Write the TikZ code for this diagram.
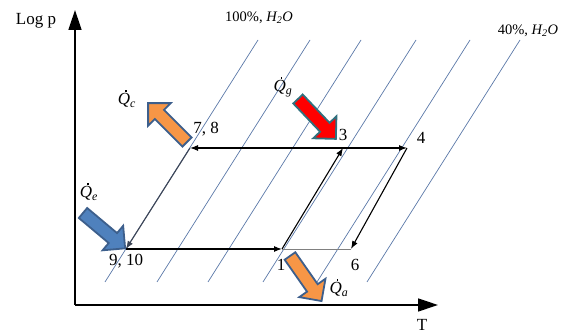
\documentclass[tikz,border=0pt]{standalone}
\usepackage{fontspec}
\setmainfont{Liberation Serif}
\usepackage{tikz}
\usetikzlibrary{
  arrows.meta,
  positioning,
}
\definecolor{isoblue}{HTML}{5A78A8}
\definecolor{heatorange}{HTML}{F79646}
\definecolor{heatred}{HTML}{FF0000}
\definecolor{heatblue}{HTML}{4F81BD}
\definecolor{rimblue}{HTML}{3D5F8C}
\definecolor{rimteal}{HTML}{31707E}
\definecolor{lineslate}{HTML}{3E4656}

\newcommand{\heatarrow}[4]{%
  \draw[heat, fill=#3, draw=#4, shift={#1}, rotate=#2]
    (0,-6.5) -- (39,-6.5) -- (39,-16) -- (55,0) -- (39,16) -- (39,6.5) -- (0,6.5) -- cycle;}
\newcommand{\qdot}[1]{\textit{\makebox[0pt][l]{\hspace{0.42em}\raisebox{0.76em}{\rule{0.1em}{0.1em}}}Q\textsubscript{#1}}}
\newcommand{\water}{\textit{H\textsubscript{2}O}}

\begin{document}
\begin{tikzpicture}[
    x=1pt, y=1pt,
    axis/.style={line width=1.4pt, -{Triangle[length=20pt, width=13pt]}},
    iso/.style={draw=isoblue, line width=0.7pt},
    flow/.style={line width=1.1pt, -{Latex[length=8pt, width=6pt]}},
    heat/.style={line width=1.8pt, line join=miter},
    num/.style={font=\fontsize{17}{20}\selectfont, inner sep=1pt},
    qlab/.style={font=\fontsize{17}{20}\selectfont, inner sep=0pt},
    iname/.style={font=\fontsize{14.5}{17}\selectfont, inner sep=1pt},
  ]
  \useasboundingbox (0,0) rectangle (566,336);

  % axes
  \coordinate (O) at (75,31);
  \coordinate (ytip) at (75,326);
  \coordinate (xtip) at (438,31);
  \draw[axis] (O) -- (ytip);
  \draw[axis] (O) -- (xtip);
  \node[num] (logp) at (36,315) {Log p};
  \node[num] (tlab) at (422,11) {T};

  % isosteres
  \foreach \xb [count=\i] in {105,157,208,263,317,367} {
    \coordinate (iso\i a) at (\xb,54);
    \coordinate (iso\i b) at (\xb+153,296);
    \draw[iso] (iso\i a) -- (iso\i b);
  }
  \node[iname] (full) at (259,318) {100\%, \water};
  \node[iname] (part) at (528,305) {40\%, \water};

  % cycle
  \coordinate (p78) at (190,188);
  \coordinate (p3) at (343,188);
  \coordinate (p4) at (407,188);
  \coordinate (p910) at (126,87);
  \coordinate (p1) at (282,87);
  \coordinate (p6) at (351,87);
  \draw[flow] (p3) -- (p4);
  \draw[flow] (p3) -- (p78);
  \draw[flow, draw=lineslate] (p78) -- (p910);
  \draw[flow] (p910) -- (p1);
  \draw[flow] (p1) -- (p3);
  \draw[flow] (p4) -- (p6);
  \draw[line width=0.8pt, gray] (p6) -- (p1);

  \node[num] (l78) at (206,207) {7, 8};
  \node[num] (l3) at (343,201) {3};
  \node[num] (l4) at (421,198) {4};
  \node[num] (l910) at (126,75) {9, 10};
  \node[num] (l1) at (281,71) {1};
  \node[num] (l6) at (355,71) {6};

  % heat flows
  \heatarrow{(187,194)}{135}{heatorange}{rimblue}
  \heatarrow{(298,237)}{-46.5}{heatred}{rimteal}
  \heatarrow{(83,123)}{-40}{heatblue}{rimblue}
  \heatarrow{(290,80)}{-55}{heatorange}{rimblue}
  \node[qlab] (qc) at (127,237) {\qdot{c}};
  \node[qlab] (qg) at (283,249) {\qdot{g}};
  \node[qlab] (qe) at (89,144) {\qdot{e}};
  \node[qlab] (qa) at (339,48) {\qdot{a}};
\end{tikzpicture}
\end{document}
